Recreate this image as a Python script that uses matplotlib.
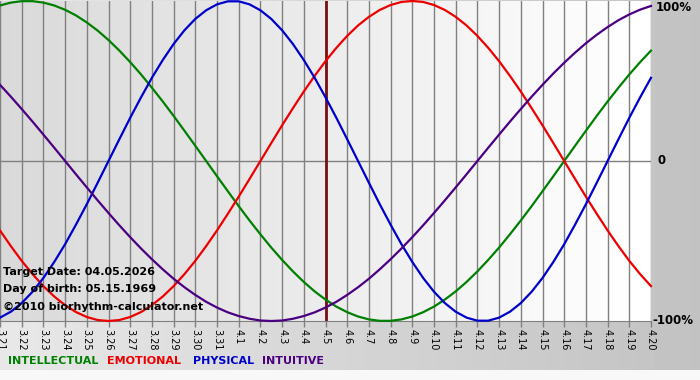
import numpy as np
import matplotlib
matplotlib.use("Agg")
import matplotlib.pyplot as plt

# days shown on the x axis (3.21 .. 4.20)
dates = ["3.21", "3.22", "3.23", "3.24", "3.25", "3.26", "3.27", "3.28", "3.29", "3.30", "3.31",
         "4.1", "4.2", "4.3", "4.4", "4.5", "4.6", "4.7", "4.8", "4.9", "4.10",
         "4.11", "4.12", "4.13", "4.14", "4.15", "4.16", "4.17", "4.18", "4.19", "4.20"]
target = "4.5"

# values, -1 .. 1, every half day from 3.21 to 4.20
intellectual = [0.972, 0.990, 0.999, 0.999, 0.990, 0.972, 0.945, 0.910, 0.866, 0.815,
                0.756, 0.690, 0.618, 0.541, 0.458, 0.372, 0.282, 0.189, 0.095, 0.0,
                -0.095, -0.189, -0.282, -0.372, -0.458, -0.541, -0.618, -0.690, -0.756, -0.815,
                -0.866, -0.910, -0.945, -0.972, -0.990, -0.999, -0.999, -0.990, -0.972, -0.945,
                -0.910, -0.866, -0.815, -0.756, -0.690, -0.618, -0.541, -0.458, -0.372, -0.282,
                -0.189, -0.095, 0.0, 0.095, 0.189, 0.282, 0.372, 0.458, 0.541, 0.618, 0.690]
emotional = [-0.434, -0.532, -0.624, -0.707, -0.782, -0.847, -0.901, -0.944, -0.975, -0.994,
             -1.0, -0.994, -0.975, -0.944, -0.901, -0.847, -0.782, -0.707, -0.624, -0.532,
             -0.434, -0.330, -0.223, -0.112, 0.0, 0.112, 0.223, 0.330, 0.434, 0.532,
             0.624, 0.707, 0.782, 0.847, 0.901, 0.944, 0.975, 0.994, 1.0, 0.994,
             0.975, 0.944, 0.901, 0.847, 0.782, 0.707, 0.624, 0.532, 0.434, 0.330,
             0.223, 0.112, 0.0, -0.112, -0.223, -0.330, -0.434, -0.532, -0.624, -0.707, -0.782]
physical = [-0.979, -0.942, -0.888, -0.817, -0.731, -0.631, -0.520, -0.398, -0.270, -0.136,
            0.0, 0.136, 0.270, 0.398, 0.520, 0.631, 0.731, 0.817, 0.888, 0.942,
            0.979, 0.998, 0.998, 0.979, 0.942, 0.888, 0.817, 0.731, 0.631, 0.520,
            0.398, 0.270, 0.136, 0.0, -0.136, -0.270, -0.398, -0.520, -0.631, -0.731,
            -0.817, -0.888, -0.942, -0.979, -0.998, -0.998, -0.979, -0.942, -0.888, -0.817,
            -0.731, -0.631, -0.520, -0.398, -0.270, -0.136, 0.0, 0.136, 0.270, 0.398, 0.520]
intuitive = [0.476, 0.402, 0.325, 0.246, 0.165, 0.083, 0.0, -0.083, -0.165, -0.246,
             -0.325, -0.402, -0.476, -0.547, -0.614, -0.677, -0.736, -0.789, -0.837, -0.880,
             -0.916, -0.946, -0.969, -0.986, -0.997, -1.0, -0.997, -0.986, -0.969, -0.946,
             -0.916, -0.880, -0.837, -0.789, -0.736, -0.677, -0.614, -0.547, -0.476, -0.402,
             -0.325, -0.246, -0.165, -0.083, 0.0, 0.083, 0.165, 0.246, 0.325, 0.402,
             0.476, 0.547, 0.614, 0.677, 0.736, 0.789, 0.837, 0.880, 0.916, 0.946, 0.969]

series = [("INTELLECTUAL", intellectual, "#008000"),
          ("EMOTIONAL", emotional, "#ee0000"),
          ("PHYSICAL", physical, "#0000cc"),
          ("INTUITIVE", intuitive, "#4b0082")]

info = ["Target Date: 04.05.2026", "Day of birth: 05.15.1969", "\u00a92010 biorhythm-calculator.net"]

fig = plt.figure(figsize=(7, 3.8), dpi=100)

# figure background: grey gradient, lighter strip at the very bottom
bg = fig.add_axes([0, 0, 1, 1], zorder=-10)
bg.axis("off")
h, w = 380, 700
grad = np.tile(np.linspace(0.91, 0.76, w), (h, 1))
grad[-10:, :] = 0.97
bg.imshow(grad, cmap="gray", vmin=0, vmax=1, extent=[0, 1, 0, 1], aspect="auto")

ax = fig.add_axes([0, 59 / 380, 651 / 700, 320 / 380])
x = np.arange(len(dates))
xs = np.arange(len(physical)) / 2.0
ax.set_xlim(0, len(dates) - 1)
ax.set_ylim(-1, 1)

# plot background gradient, darker on the left
pg = np.tile(np.linspace(0.85, 1.0, 200), (2, 1))
ax.imshow(pg, cmap="gray", vmin=0, vmax=1, extent=[0, len(dates) - 1, -1, 1],
          aspect="auto", zorder=0)

for xi in x:
    ax.axvline(xi, color="#808080", lw=1, zorder=1)
ax.axhline(0, color="#808080", lw=1, zorder=1)
ax.axvline(dates.index(target), color="#7a1010", lw=2, zorder=2)

for name, vals, col in series:
    ax.plot(xs, vals, color=col, lw=1.6, zorder=3, clip_on=False)

for s in ["top", "right", "left"]:
    ax.spines[s].set_visible(False)
ax.spines["bottom"].set_color("#808080")
ax.set_yticks([])
ax.set_xticks(x)
ax.set_xticklabels(dates, rotation=270, fontsize=7)
ax.tick_params(axis="x", length=4, width=1, color="#808080", pad=2)

ax.text(len(dates) - 1 + 0.2, 0.96, "100%", fontsize=8.5, fontweight="bold", va="center", ha="left")
ax.text(len(dates) - 1 + 0.3, 0.0, "0", fontsize=8.5, fontweight="bold", va="center", ha="left")
ax.text(len(dates) - 1 + 0.05, -1.0, "-100%", fontsize=8.5, fontweight="bold", va="center", ha="left")

for i, line in enumerate(info):
    fig.text(3 / 700, (380 - 272 - 17.5 * i) / 380, line, fontsize=8, fontweight="bold",
             va="center", ha="left", zorder=5)

legend_x = [8, 107, 193, 262]
for (name, vals, col), lx in zip(series, legend_x):
    fig.text(lx / 700, (380 - 361) / 380, name, color=col, fontsize=8, fontweight="bold",
             va="center", ha="left")

fig.savefig("out.png", dpi=100)
